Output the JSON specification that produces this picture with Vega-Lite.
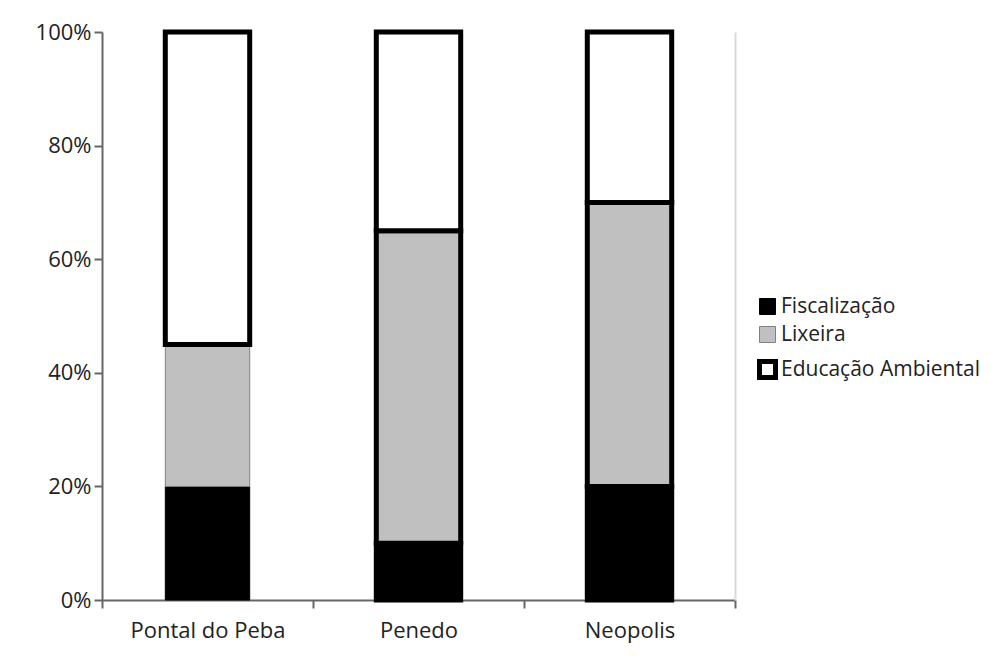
{
  "$schema": "https://vega.github.io/schema/vega-lite/v6.json",
  "autosize": {"type": "none"},
  "width": 633,
  "height": 568,
  "padding": {"left": 102, "top": 32, "right": 270, "bottom": 63},
  "background": "white",
  "config": {
    "view": {"stroke": null},
    "font": "Open Sans",
    "axis": {"labelFont": "Open Sans", "labelFontSize": 22, "labelColor": "#222", "grid": false, "domainColor": "#666", "domainWidth": 2, "tickColor": "#666", "tickWidth": 2, "tickSize": 8},
    "legend": {"labelFont": "Open Sans", "labelFontSize": 21, "labelColor": "#222", "labelLimit": 0}
  },
  "data": {
    "values": [
      {"local": "Pontal do Peba", "serie": "Fiscalização", "valor": 20},
      {"local": "Pontal do Peba", "serie": "Lixeira", "valor": 25},
      {"local": "Pontal do Peba", "serie": "Educação Ambiental", "valor": 55},
      {"local": "Penedo", "serie": "Fiscalização", "valor": 10},
      {"local": "Penedo", "serie": "Lixeira", "valor": 55},
      {"local": "Penedo", "serie": "Educação Ambiental", "valor": 35},
      {"local": "Neopolis", "serie": "Fiscalização", "valor": 20},
      {"local": "Neopolis", "serie": "Lixeira", "valor": 50},
      {"local": "Neopolis", "serie": "Educação Ambiental", "valor": 30}
    ]
  },
  "layer": [
    {
      "transform": [
        {"calculate": "indexof(['Fiscalização','Lixeira','Educação Ambiental'], datum.serie)", "as": "ordem"}
      ],
      "mark": {"type": "bar", "width": {"band": 0.4}},
      "encoding": {
        "x": {
          "field": "local", "type": "nominal",
          "sort": ["Pontal do Peba", "Penedo", "Neopolis"],
          "scale": {"paddingInner": 0, "paddingOuter": 0},
          "axis": {"title": null, "labelAngle": 0, "tickBand": "extent", "labelPadding": 12}
        },
        "y": {
          "field": "valor", "type": "quantitative", "stack": "normalize",
          "scale": {"domain": [0, 1]},
          "axis": {"title": null, "format": ".0%", "values": [0, 0.2, 0.4, 0.6, 0.8, 1], "labelPadding": 3}
        },
        "color": {
          "field": "serie", "type": "nominal",
          "sort": ["Fiscalização", "Lixeira", "Educação Ambiental"],
          "scale": {"domain": ["Fiscalização", "Lixeira", "Educação Ambiental"], "range": ["#000000", "#c0c0c0", "#ffffff"]},
          "legend": {"title": null, "orient": "none", "legendX": 655, "legendY": 264, "symbolType": "square", "symbolSize": 256, "symbolOpacity": 1, "rowPadding": 6, "labelOffset": 3}
        },
        "stroke": {
          "condition": {"test": "datum.local !== 'Pontal do Peba'", "value": "#000000"},
          "field": "serie", "type": "nominal",
          "scale": {"type": "ordinal", "domain": ["Fiscalização", "Lixeira", "Educação Ambiental"], "range": ["#000000", "#808080", "#000000"]}
        },
        "strokeWidth": {
          "condition": {"test": "datum.local !== 'Pontal do Peba'", "value": 5},
          "field": "serie", "type": "nominal",
          "scale": {"type": "ordinal", "domain": ["Fiscalização", "Lixeira", "Educação Ambiental"], "range": [1, 1, 5]}
        },
        "order": {"field": "ordem", "type": "quantitative", "sort": "ascending"}
      }
    },
    {
      "mark": {"type": "rule", "opacity": 0},
      "encoding": {
        "y": {
          "field": "valor", "type": "quantitative", "aggregate": "max",
          "scale": {"domain": [0, 1]},
          "axis": {"orient": "right", "title": null, "labels": false, "ticks": false, "domainColor": "#d9d9d9", "domainWidth": 2}
        }
      }
    }
  ],
  "resolve": {"axis": {"y": "independent"}}
}
